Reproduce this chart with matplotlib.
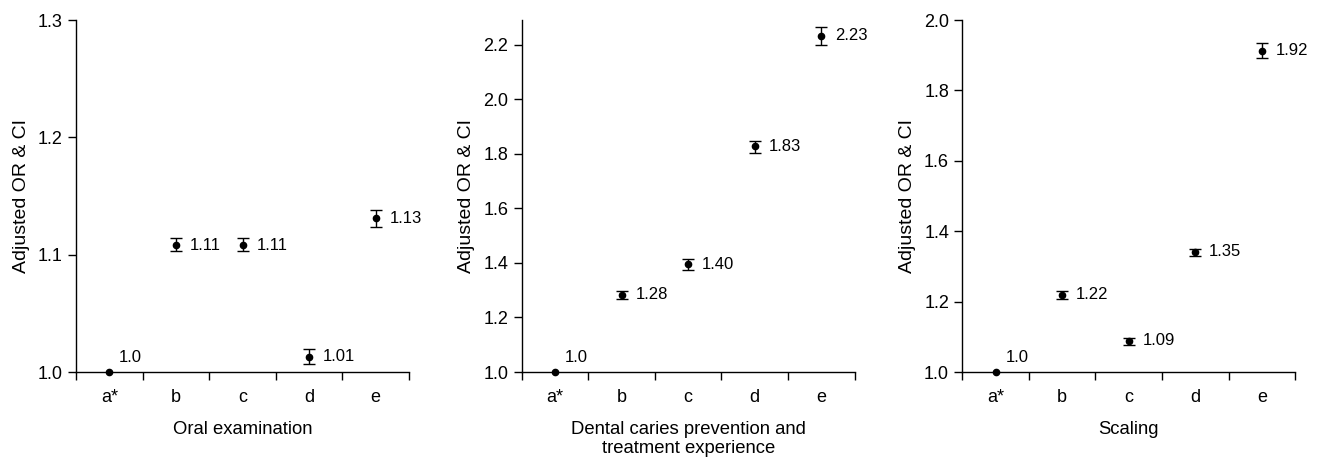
import matplotlib
matplotlib.use("Agg")
import matplotlib.pyplot as plt
import numpy as np

plt.rcParams["font.family"] = ["Liberation Sans", "DejaVu Sans"]

CATS = ["a*", "b", "c", "d", "e"]

# panel 1: oral examination
oral_or = [1.0, 1.108, 1.108, 1.013, 1.131]
oral_lo = [1.0, 1.103, 1.103, 1.007, 1.124]
oral_hi = [1.0, 1.114, 1.114, 1.020, 1.138]
oral_lab = ["1.0", "1.11", "1.11", "1.01", "1.13"]

# panel 2: dental caries prevention and treatment experience
caries_or = [1.0, 1.284, 1.395, 1.827, 2.233]
caries_lo = [1.0, 1.269, 1.373, 1.802, 2.197]
caries_hi = [1.0, 1.298, 1.416, 1.847, 2.266]
caries_lab = ["1.0", "1.28", "1.40", "1.83", "2.23"]

# panel 3: scaling
scal_or = [1.0, 1.220, 1.089, 1.341, 1.913]
scal_lo = [1.0, 1.208, 1.078, 1.331, 1.891]
scal_hi = [1.0, 1.231, 1.098, 1.350, 1.934]
scal_lab = ["1.0", "1.22", "1.09", "1.35", "1.92"]

PANELS = [
    (oral_or, oral_lo, oral_hi, oral_lab, "Oral examination", (1.0, 1.3), np.arange(1.0, 1.31, 0.1)),
    (caries_or, caries_lo, caries_hi, caries_lab, "Dental caries prevention and\ntreatment experience",
     (1.0, 2.29), np.arange(1.0, 2.21, 0.2)),
    (scal_or, scal_lo, scal_hi, scal_lab, "Scaling", (1.0, 2.0), np.arange(1.0, 2.01, 0.2)),
]
LEFTS = [0.0577, 0.3958, 0.7301]
W = 0.2526
BOT, TOP = 0.1895, 0.9564

fig = plt.figure(figsize=(13.18, 4.59), dpi=100)
for (orv, lo, hi, lab, xlabel, ylim, yt), left in zip(PANELS, LEFTS):
    ax = fig.add_axes([left, BOT, W, TOP - BOT])
    x = np.arange(len(CATS)) + 0.5
    orv = np.array(orv); lo = np.array(lo); hi = np.array(hi)
    yerr = np.vstack([orv - lo, hi - orv])
    # reference category: plain dot, no CI
    ax.plot(x[0], orv[0], "o", color="k", ms=4.5, clip_on=False, zorder=3)
    ax.errorbar(x[1:], orv[1:], yerr=yerr[:, 1:], fmt="o", color="k", ms=4.5,
                elinewidth=1.0, capsize=4, capthick=1.0)
    ax.annotate(lab[0], (x[0], orv[0]), xytext=(7, 5), textcoords="offset points",
                fontsize=12, va="bottom", ha="left")
    for xi, yi, t in zip(x[1:], orv[1:], lab[1:]):
        ax.annotate(t, (xi, yi), xytext=(10, 0), textcoords="offset points",
                    fontsize=12, va="center", ha="left")
    ax.set_xlim(0, 5)
    ax.set_ylim(*ylim)
    ax.set_xticks(np.arange(0, 6))
    ax.set_xticklabels([])
    ax.set_xticks(x, minor=True)
    ax.set_xticklabels(CATS, minor=True, fontsize=13)
    ax.tick_params(axis="x", which="minor", length=0, pad=12)
    ax.tick_params(axis="x", which="major", length=5.5, width=1.0)
    ax.set_yticks(yt)
    ax.set_yticklabels([f"{v:.1f}" for v in yt], fontsize=13)
    ax.tick_params(axis="y", length=5.5, width=1.0, pad=4)
    for s in ("top", "right"):
        ax.spines[s].set_visible(False)
    for s in ("left", "bottom"):
        ax.spines[s].set_linewidth(1.0)
    ax.set_xlabel(xlabel, fontsize=13.3, labelpad=11, linespacing=1.15)
    ax.set_ylabel("Adjusted OR & CI", fontsize=14, labelpad=6)

fig.savefig("out.png", dpi=100)
